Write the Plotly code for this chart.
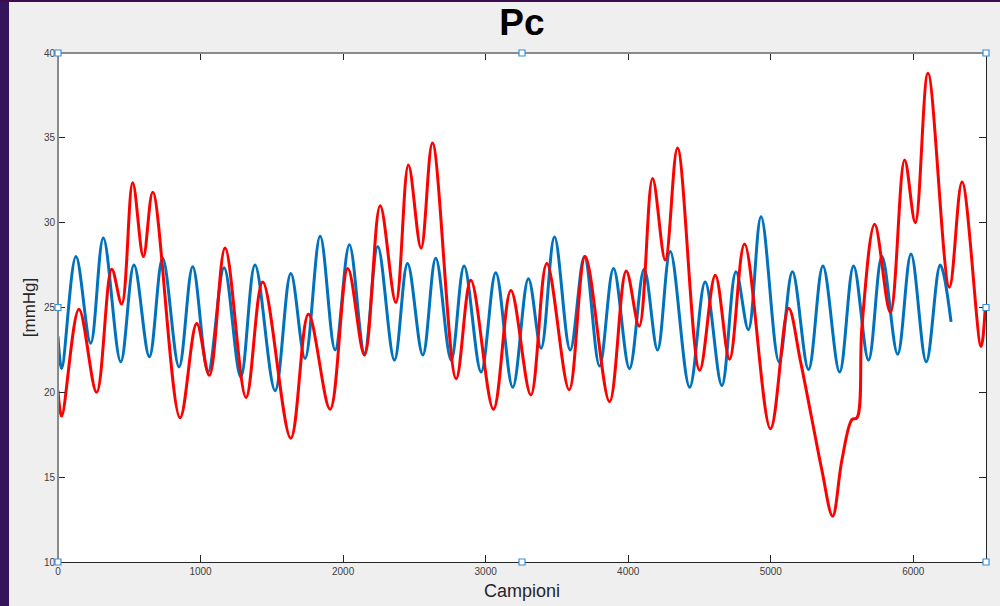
import plotly.graph_objects as go

# Blue series: extrema (sample index, mmHg)
blue_x = [0, 26, 126, 229, 318, 440, 533, 641, 734, 849, 945, 1053, 1165, 1282, 1382, 1523, 1633,
          1733, 1839, 1944, 2044, 2150, 2243, 2360, 2452, 2559, 2650, 2758, 2849, 2968, 3071, 3190, 3300, 3389,
          3483, 3593, 3693, 3799, 3897, 4009, 4112, 4206, 4295, 4431, 4540, 4657, 4756, 4843, 4932,
          5058, 5152, 5265, 5366, 5483, 5581, 5686, 5780, 5890, 5984, 6091, 6189, 6265]
blue_y = [23.3, 21.4, 28.0, 22.9, 29.1, 21.8, 27.5, 22.1, 27.9, 21.5, 27.4, 21.2, 27.35, 20.9, 27.5, 20.1, 27.0,
          22.0, 29.2, 22.5, 28.7, 22.3, 28.6, 21.9, 27.6, 22.2, 27.9, 21.9, 27.45, 21.2, 27.05, 20.3, 26.7, 22.6,
          29.15, 22.5, 28.0, 21.55, 27.3, 21.4, 27.25, 22.5, 28.3, 20.3, 26.5, 20.4, 27.1, 23.7, 30.35,
          21.8, 27.1, 21.35, 27.45, 21.2, 27.45, 21.9, 28.0, 22.25, 28.15, 21.8, 27.5, 24.15]

# Red series: extrema (and a few points on long slopes)
red_x = [0, 26, 147, 271, 377, 447, 524, 599, 665, 856, 973, 1062, 1172, 1319, 1436, 1633,
         1757, 1909, 2033, 2150, 2260, 2370, 2458, 2547, 2627, 2793, 2896, 3055, 3177, 3317, 3429,
         3586, 3698, 3869, 3986, 4077, 4171, 4260, 4346, 4501, 4611, 4711, 4816, 4998, 5125,
         5207, 5289, 5359, 5434, 5499, 5570, 5605, 5640, 5729, 5839, 5939, 6014, 6103, 6253, 6342, 6475, 6505]
red_y = [20.1, 18.6, 24.9, 20.0, 27.25, 25.2, 32.35, 28.0, 31.8, 18.5, 24.05, 21.0, 28.5, 19.7, 26.5, 17.3,
         24.6, 19.0, 27.3, 22.2, 31.0, 25.3, 33.4, 28.5, 34.7, 20.8, 26.6, 19.0, 26.0, 19.85, 27.6,
         20.15, 28.0, 19.45, 27.15, 23.9, 32.6, 27.8, 34.4, 21.3, 26.9, 21.95, 28.75, 17.85, 24.95,
         21.9, 18.4, 15.4, 12.7, 16.0, 18.4, 18.5, 23.9, 29.9, 24.7, 33.7, 30.0, 38.8, 26.2, 32.4, 22.7, 25.05]

x_ticks = [0, 1000, 2000, 3000, 4000, 5000, 6000]
y_ticks = [10, 15, 20, 25, 30, 35, 40]

fig = go.Figure()
fig.add_trace(go.Scatter(x=blue_x, y=blue_y, mode="lines",
                         line=dict(color="#0072BD", width=3, shape="spline", smoothing=1.0),
                         hoverinfo="skip", showlegend=False))
fig.add_trace(go.Scatter(x=red_x, y=red_y, mode="lines",
                         line=dict(color="#FF0000", width=3, shape="spline", smoothing=1.0),
                         hoverinfo="skip", showlegend=False))

L, R, T, B = 58, 14, 53, 44
W, H = 1000, 606
pw, ph = W - L - R, H - T - B

def px(xp):
    return (xp - L) / pw

def py(yp):
    return (H - B - yp) / ph

shapes = []
# purple desktop edges
shapes.append(dict(type="rect", xref="paper", yref="paper", x0=px(-5), x1=px(9), y0=py(610), y1=py(-5),
                   fillcolor="#34145a", line=dict(width=0), layer="below"))
shapes.append(dict(type="rect", xref="paper", yref="paper", x0=px(-5), x1=px(1005), y0=py(2), y1=py(-5),
                   fillcolor="#3c0c4e", line=dict(width=0), layer="below"))
# gray highlighted top and left axis lines
shapes.append(dict(type="line", xref="paper", yref="paper", x0=0, x1=1, y0=1, y1=1,
                   line=dict(color="#8a8a8a", width=2)))
shapes.append(dict(type="line", xref="paper", yref="paper", x0=0, x1=0, y0=0, y1=1,
                   line=dict(color="#8a8a8a", width=2)))
# selection handles
for hx in (0, 0.5, 1):
    for hy in (0, 0.5, 1):
        if hx == 0.5 and hy == 0.5:
            continue
        shapes.append(dict(type="rect", xref="paper", yref="paper",
                           xsizemode="pixel", ysizemode="pixel", xanchor=hx, yanchor=hy,
                           x0=-3, x1=3, y0=-3, y1=3,
                           fillcolor="white", line=dict(color="#3d8fd6", width=1.2)))

fig.update_layout(
    width=W, height=H,
    margin=dict(l=L, r=R, t=T, b=B, pad=0, autoexpand=False),
    paper_bgcolor="#efefef",
    plot_bgcolor="white",
    shapes=shapes,
    title=dict(text="<b>Pc</b>", xref="paper", x=px(522), xanchor="center",
               yref="container", y=1 - 22 / H, yanchor="middle",
               font=dict(family="Liberation Sans, Arial, sans-serif", size=37, color="black")),
    font=dict(family="Liberation Sans, Arial, sans-serif", color="#404040"),
    xaxis=dict(range=[0, 6510], tickvals=x_ticks, ticktext=[str(v) for v in x_ticks],
               ticks="inside", ticklen=7, tickwidth=1, tickcolor="#262626",
               showline=True, linecolor="#262626", linewidth=1, mirror="ticks",
               showgrid=False, zeroline=False, tickfont=dict(size=10, color="#404040"),
               automargin=False,
               title=dict(text="Campioni", font=dict(size=18, color="#262626"), standoff=8)),
    yaxis=dict(range=[10, 40], tickvals=y_ticks, ticktext=[str(v) for v in y_ticks],
               ticks="inside", ticklen=7, tickwidth=1, tickcolor="#262626",
               showline=True, linecolor="#262626", linewidth=1, mirror="ticks",
               showgrid=False, zeroline=False, tickfont=dict(size=10, color="#404040"),
               automargin=False,
               title=dict(text="[mmHg]", font=dict(size=17, color="#262626"), standoff=3)),
)

fig.write_html("out.html", config={"displayModeBar": False},
               post_script="document.body.style.margin='0';document.body.style.overflow='hidden';")
